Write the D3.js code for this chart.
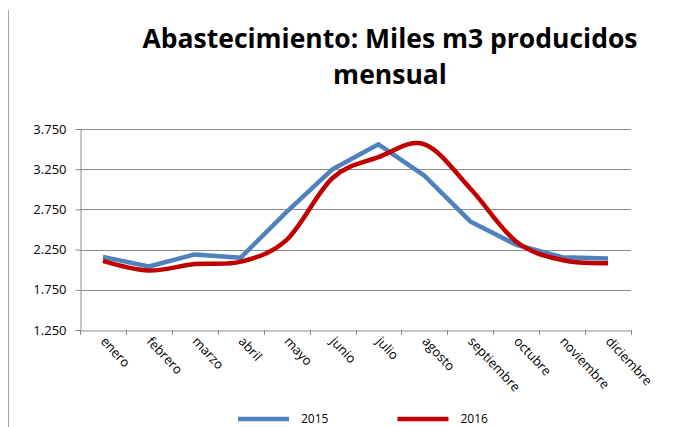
<!DOCTYPE html>
<html>
<head>
<meta charset="utf-8">
<script src="https://cdn.jsdelivr.net/npm/d3@7"></script>
<style>
body { margin: 0; background: #fff; }
svg { display: block; font-family: "Open Sans", "Liberation Sans", sans-serif; }
</style>
</head>
<body>
<svg id="chart" width="681" height="427"></svg>
<script>
var meses = ['enero', 'febrero', 'marzo', 'abril', 'mayo', 'junio', 'julio',
    'agosto', 'septiembre', 'octubre', 'noviembre', 'diciembre'];
var v2015 = [2.16, 2.04, 2.19, 2.15, 2.72, 3.25, 3.56, 3.17, 2.60, 2.31, 2.155, 2.14];
var v2016 = [2.11, 1.99, 2.07, 2.10, 2.37, 3.14, 3.40, 3.56, 3.01, 2.35, 2.12, 2.08];
var yTicks = [1.25, 1.75, 2.25, 2.75, 3.25, 3.75];
var series = [
    { name: '2015', values: v2015, color: '#4f81bd', smooth: false },
    { name: '2016', values: v2016, color: '#c00000', smooth: true }
];

var svg = d3.select('#chart');

// thin frame line at the left
svg.append('line')
    .attr('x1', 8.5).attr('x2', 8.5)
    .attr('y1', 10).attr('y2', 427)
    .attr('stroke', '#a6a6a6').attr('stroke-width', 1);

var x = d3.scaleBand().domain(meses).range([80, 631]);
var y = d3.scaleLinear().domain([1.25, 3.75]).range([330, 129]);

// title
var title = svg.append('text')
    .attr('text-anchor', 'middle')
    .attr('font-weight', 'bold')
    .attr('font-size', '26.5px')
    .attr('fill', '#000');
title.append('tspan').attr('x', 390).attr('y', 48).text('Abastecimiento: Miles m3 producidos');
title.append('tspan').attr('x', 390).attr('y', 84).text('mensual');

// gridlines
svg.append('g')
    .selectAll('line')
    .data(yTicks.slice(1))
    .enter().append('line')
    .attr('x1', 80).attr('x2', 631)
    .attr('y1', function(d) { return Math.round(y(d)) + 0.5; })
    .attr('y2', function(d) { return Math.round(y(d)) + 0.5; })
    .attr('stroke', '#8c8c8c').attr('stroke-width', 1);

// y axis
var yAxis = svg.append('g')
    .attr('transform', 'translate(80.5,0)')
    .call(d3.axisLeft(y).tickValues(yTicks).tickFormat(d3.format('.3f')).tickSize(5).tickPadding(9));
yAxis.select('.domain').attr('stroke', '#8c8c8c');
yAxis.selectAll('.tick line').attr('stroke', '#8c8c8c');
yAxis.selectAll('.tick text').attr('font-size', '13px').attr('fill', '#000')
    .attr('font-family', '"Open Sans", sans-serif');

// x axis
var xAxis = svg.append('g')
    .attr('transform', 'translate(0,330.5)')
    .call(d3.axisBottom(x).tickSize(0).tickFormat(''));
xAxis.select('.domain').attr('stroke', '#8c8c8c');
svg.append('g')
    .selectAll('line')
    .data(meses.concat(['_end']))
    .enter().append('line')
    .attr('x1', function(d, i) { return Math.round(80 + i * x.bandwidth()) + 0.5; })
    .attr('x2', function(d, i) { return Math.round(80 + i * x.bandwidth()) + 0.5; })
    .attr('y1', 330).attr('y2', 335)
    .attr('stroke', '#8c8c8c');

svg.append('g')
    .selectAll('text')
    .data(meses)
    .enter().append('text')
    .attr('transform', function(d) {
        return 'translate(' + (x(d) + x.bandwidth() / 2 - 3) + ',342) rotate(47)';
    })
    .attr('font-size', '13px')
    .attr('fill', '#000')
    .text(function(d) { return d; });

// lines
var lineStraight = d3.line()
    .x(function(d, i) { return x(meses[i]) + x.bandwidth() / 2; })
    .y(function(d) { return y(d); });
var lineSmooth = d3.line()
    .x(function(d, i) { return x(meses[i]) + x.bandwidth() / 2; })
    .y(function(d) { return y(d); })
    .curve(d3.curveCardinal.tension(0));

svg.append('g')
    .selectAll('path')
    .data(series)
    .enter().append('path')
    .attr('d', function(s) { return s.smooth ? lineSmooth(s.values) : lineStraight(s.values); })
    .attr('fill', 'none')
    .attr('stroke', function(s) { return s.color; })
    .attr('stroke-width', 4.5)
    .attr('stroke-linejoin', 'round');

// legend
var legend = svg.append('g')
    .selectAll('g')
    .data(series)
    .enter().append('g')
    .attr('transform', function(s, i) { return 'translate(' + (238 + i * 159.5) + ',0)'; });
legend.append('line')
    .attr('x1', 0).attr('x2', 51)
    .attr('y1', 419).attr('y2', 419)
    .attr('stroke', function(s) { return s.color; })
    .attr('stroke-width', 4.5);
legend.append('text')
    .attr('x', 63).attr('y', 423)
    .attr('font-size', '12px')
    .attr('fill', '#000')
    .text(function(s) { return s.name; });
</script>
</body>
</html>
